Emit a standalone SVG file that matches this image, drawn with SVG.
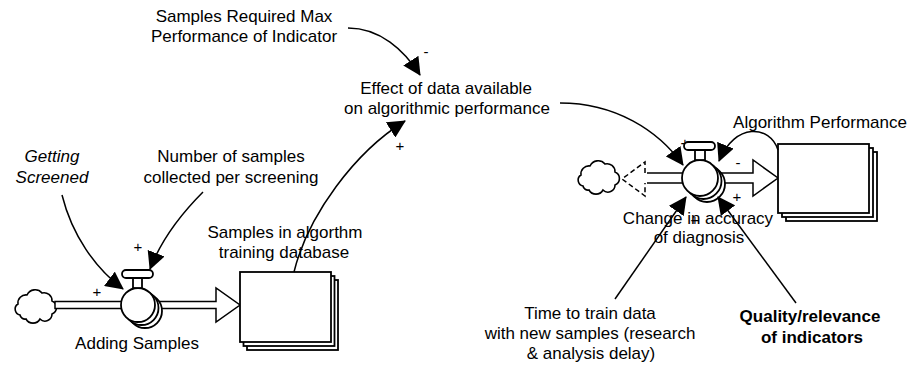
<svg xmlns="http://www.w3.org/2000/svg" width="913" height="366" viewBox="0 0 913 366">
<style>
text{font-family:"Liberation Sans",Arial,sans-serif;font-size:17px;fill:#000;text-anchor:middle}
.pol{font-size:15px}
.it{font-style:italic}
.b{font-weight:bold}
.sh{fill:#fff;stroke:#000;stroke-width:1.8}
.pipe{fill:#fff;stroke:#000;stroke-width:1.5}
.ln{fill:none;stroke:#000;stroke-width:1.6}
.con{fill:none;stroke:#000;stroke-width:1.5;marker-end:url(#ah)}
.dash{fill:none;stroke:#000;stroke-width:1.5;stroke-dasharray:5 3}
</style>
<defs>
<marker id="ah" markerUnits="userSpaceOnUse" markerWidth="18" markerHeight="18" viewBox="0 0 18 18" refX="17" refY="9" orient="auto"><path d="M0,0 L18,9 L0,18 z" fill="#000"/></marker>
<path id="cloud" d="M8,26 A6,6 0 0 1 6,15 A8,8 0 0 1 15,6 A9,9 0 0 1 30,4 A8,8 0 0 1 40,12 A7,7 0 0 1 40,25 A7,7 0 0 1 28,30 A8,8 0 0 1 14,30 A5,5 0 0 1 8,26 Z" fill="#fff" stroke="#000" stroke-width="1.6"/>
</defs>

<g id="label-under-bar"><text class="pol" x="685" y="148">+</text></g>

<g id="cloud-left"><use href="#cloud" x="12" y="289"/></g>
<g id="cloud-right"><use href="#cloud" x="575" y="160"/></g>

<g id="flow-adding-samples">
<rect class="pipe" x="55" y="301.5" width="70" height="7"/>
<path class="pipe" d="M150,301.5 L216,301.5 L216,288 L240,305 L216,322 L216,308.5 L150,308.5"/>
<circle class="sh" cx="145" cy="311" r="17"/>
<circle class="sh" cx="141.5" cy="308" r="17"/>
<circle class="sh" cx="138" cy="305" r="17"/>
<rect class="sh" x="133" y="277" width="9" height="11"/>
<rect class="sh" x="122" y="270" width="31" height="8" rx="4"/>
<text x="137" y="349">Adding Samples</text>
</g>

<g id="stock-samples">
<rect class="sh" x="247" y="280" width="91" height="70"/>
<rect class="sh" x="243.5" y="276" width="91" height="70"/>
<rect class="sh" x="240" y="272" width="91" height="70"/>
<text x="285" y="238">Samples in algorthm</text>
<text x="284" y="258">training database</text>
</g>

<g id="flow-change-accuracy">
<path class="dash" d="M645,173 L645,162 L622,179 L645,196 L645,183"/>
<path class="pipe" d="M647,173 L690,173 M690,183 L647,183"/>
<rect x="647" y="174" width="40" height="8" fill="#fff"/>
<path class="pipe" d="M712,173 L753,173 L753,160 L778,178 L753,196 L753,183 L712,183"/>
<circle class="sh" cx="707" cy="184" r="18"/>
<circle class="sh" cx="703.5" cy="181" r="18"/>
<circle class="sh" cx="700" cy="178" r="18"/>
<rect class="sh" x="695" y="150" width="10" height="10"/>
<rect class="sh" x="684" y="142" width="31" height="8" rx="4"/>
<text x="698" y="224">Change in accuracy</text>
<text x="699" y="243">of diagnosis</text>
</g>

<g id="stock-algorithm-performance">
<rect class="sh" x="786" y="152" width="91" height="69"/>
<rect class="sh" x="782" y="148" width="91" height="69"/>
<rect class="sh" x="778" y="144" width="91" height="69"/>
<text x="820" y="128">Algorithm Performance</text>
</g>

<g id="var-samples-required"><text x="244" y="22">Samples Required Max</text><text x="244" y="42">Performance of Indicator</text></g>
<g id="var-effect"><text x="446" y="94">Effect of data available</text><text x="447" y="114">on algorithmic performance</text></g>
<g id="var-getting-screened"><text class="it" x="52" y="162">Getting</text><text class="it" x="52" y="183">Screened</text></g>
<g id="var-number-samples"><text x="231" y="162">Number of samples</text><text x="231" y="183">collected per screening</text></g>
<g id="var-time-to-train"><text x="590" y="319">Time to train data</text><text x="590" y="339">with new samples (research</text><text x="591" y="359">&amp; analysis delay)</text></g>
<g id="var-quality"><text class="b" x="810" y="322">Quality/relevance</text><text class="b" x="812" y="343">of indicators</text></g>

<g id="connectors">
<path class="con" d="M348,28 C380,28 404,50 420,75"/>
<path class="con" d="M294,272 C308,215 355,152 405,121"/>
<path class="con" d="M62,195 C72,235 95,268 123,289"/>
<path class="con" d="M203,192 C185,210 162,238 150,269"/>
<path class="con" d="M560,103 C615,103 658,130 683,165"/>
<path class="con" d="M778,150 C770,125 735,122 719,161"/>
<path class="con" d="M615,299 L686,197"/>
<path class="con" d="M796,303 L718,197"/>
<text class="pol" x="426" y="57">-</text>
<text class="pol" x="400" y="151">+</text>
<text class="pol" x="97" y="297">+</text>
<text class="pol" x="138" y="252">+</text>
<text class="pol" x="738" y="168">-</text>
<text class="pol" x="737" y="202">+</text>
<text class="pol" x="695" y="225">+</text>
</g>
</svg>
